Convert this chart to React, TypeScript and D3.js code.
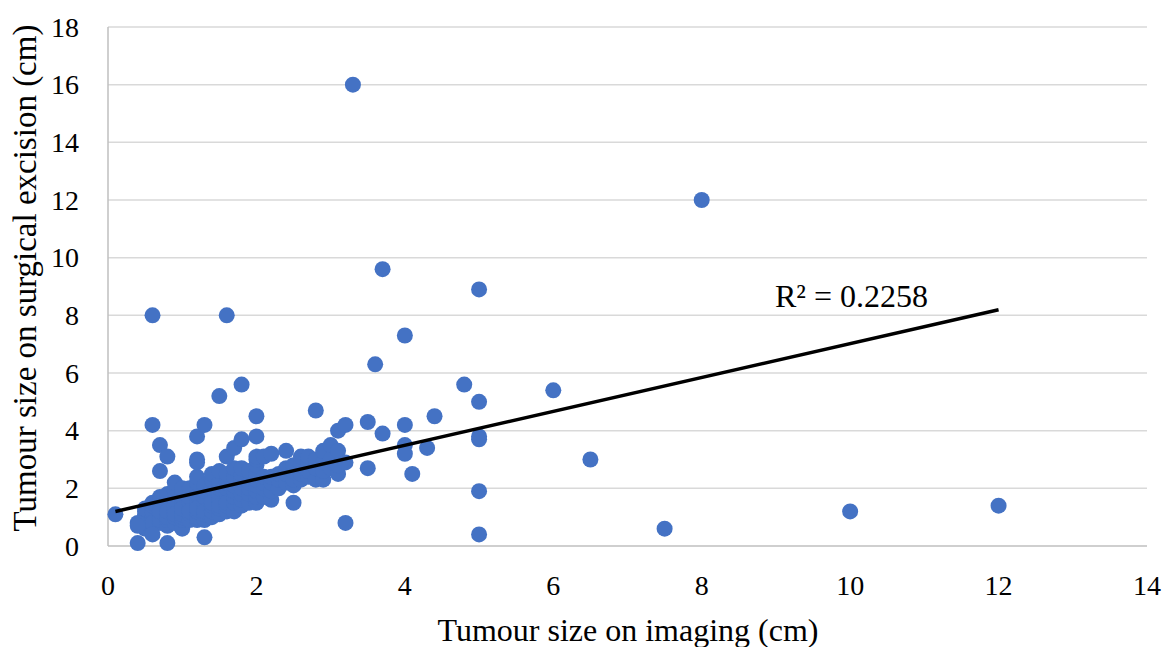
import React from "react";
import * as d3 from "d3";

// Tumour size on imaging (cm) vs surgical excision (cm)
const imagingX: number[] = [
  // dense cluster
  0.5,0.5,0.5,0.5,0.5,0.5,0.5,
  0.6,0.6,0.6,0.6,0.6,0.6,0.6,
  0.7,0.7,0.7,0.7,0.7,0.7,0.7,0.7,
  0.8,0.8,0.8,0.8,0.8,0.8,0.8,0.8,0.8,
  0.9,0.9,0.9,0.9,0.9,0.9,0.9,0.9,
  1.0,1.0,1.0,1.0,1.0,1.0,1.0,1.0,1.0,1.0,1.0,
  1.1,1.1,1.1,1.1,1.1,1.1,1.1,
  1.2,1.2,1.2,1.2,1.2,1.2,1.2,1.2,1.2,1.2,1.2,
  1.3,1.3,1.3,1.3,1.3,1.3,1.3,1.3,
  1.4,1.4,1.4,1.4,1.4,1.4,1.4,1.4,1.4,
  1.5,1.5,1.5,1.5,1.5,1.5,1.5,1.5,1.5,
  1.6,1.6,1.6,1.6,1.6,1.6,1.6,1.6,
  1.7,1.7,1.7,1.7,1.7,1.7,1.7,
  1.8,1.8,1.8,1.8,1.8,1.8,1.8,
  1.9,1.9,1.9,1.9,1.9,
  2.0,2.0,2.0,2.0,2.0,2.0,2.0,2.0,2.0,
  2.1,2.1,2.1,2.1,2.1,
  2.2,2.2,2.2,2.2,2.2,
  2.3,2.3,2.3,
  2.4,2.4,2.4,2.4,
  2.5,2.5,2.5,2.5,
  2.6,2.6,2.6,2.6,
  2.7,2.7,2.7,2.7,
  2.8,2.8,2.8,
  2.9,2.9,2.9,2.9,
  3.0,3.0,3.0,
  3.1,3.1,3.1,3.1,
  3.2,
  // outliers and sparse points
  0.1,0.4,0.4,0.4,0.6,0.6,0.6,0.7,0.7,0.8,0.8,
  1.2,1.2,1.2,1.3,1.3,1.5,1.6,1.6,1.7,1.8,1.8,
  2.0,2.0,2.5,2.8,3.2,3.2,3.3,3.5,3.5,3.6,3.7,3.7,
  4.0,4.0,4.0,4.0,4.1,4.3,4.4,4.8,
  5.0,5.0,5.0,5.0,5.0,5.0,6.0,6.5,7.5,8.0,10.0,12.0,
];

const excisionY: number[] = [
  0.6,0.8,1.0,1.2,0.9,1.1,1.3,
  0.7,0.9,1.0,1.2,1.4,0.8,1.5,
  0.8,1.0,1.1,1.3,1.5,1.7,0.9,1.2,
  0.7,0.9,1.1,1.3,1.5,1.6,1.8,1.0,1.2,
  0.8,1.0,1.2,1.4,1.6,1.9,2.2,1.1,
  0.6,0.9,1.0,1.2,1.4,1.5,1.7,1.9,2.0,1.1,1.3,
  0.9,1.1,1.3,1.5,1.7,2.0,1.2,
  0.9,1.0,1.2,1.4,1.5,1.6,1.8,2.0,2.2,2.4,1.3,
  0.9,1.1,1.3,1.5,1.7,1.9,2.1,1.2,
  1.0,1.2,1.4,1.6,1.8,2.0,2.3,2.5,1.5,
  1.1,1.3,1.5,1.6,1.8,2.0,2.2,2.6,1.4,
  1.2,1.4,1.6,1.8,2.0,2.2,2.5,1.5,
  1.2,1.5,1.7,1.9,2.1,2.4,2.7,
  1.4,1.6,1.8,2.0,2.3,2.5,2.7,
  1.5,1.8,2.0,2.2,2.6,
  1.5,1.7,1.9,2.1,2.3,2.5,2.8,3.0,3.1,
  1.7,2.0,2.2,2.4,3.1,
  1.6,1.9,2.2,2.4,3.2,
  2.0,2.3,2.5,
  2.2,2.5,2.7,3.3,
  2.1,2.3,2.6,2.8,
  2.3,2.5,2.8,3.1,
  2.4,2.6,2.9,3.1,
  2.3,2.7,3.0,
  2.3,2.6,2.9,3.3,
  2.7,3.0,3.5,
  2.5,2.8,3.3,4.0,
  2.9,
  1.1,0.8,0.7,0.1,8.0,4.2,0.4,3.5,2.6,3.1,0.1,
  3.8,3.0,2.9,4.2,0.3,5.2,8.0,3.1,3.4,5.6,3.7,
  4.5,3.8,1.5,4.7,4.2,0.8,16.0,4.3,2.7,6.3,9.6,3.9,
  7.3,4.2,3.5,3.2,2.5,3.4,4.5,5.6,
  8.9,5.0,3.8,3.7,1.9,0.4,5.4,3.0,0.6,12.0,1.2,1.4,
];

const xTicks: number[] = [0, 2, 4, 6, 8, 10, 12, 14];
const yTicks: number[] = [0, 2, 4, 6, 8, 10, 12, 14, 16, 18];

// Linear trendline coefficients as shown on chart
const trendSlope = 0.588;
const trendIntercept = 1.14;
const r2Label = "R² = 0.2258";

const W = 1167;
const H = 647;
const margin = { left: 108, right: 20, top: 27, bottom: 101 };

export default function App() {
  const x = d3.scaleLinear().domain([0, 14]).range([margin.left, W - margin.right]);
  const y = d3.scaleLinear().domain([0, 18]).range([H - margin.bottom, margin.top]);
  const pts = imagingX.map((v, i) => [v, excisionY[i]] as [number, number]);
  const [xmin, xmax] = d3.extent(imagingX) as [number, number];
  const line = d3.line<number>()
    .x((d) => x(d))
    .y((d) => y(trendSlope * d + trendIntercept));
  const font = "'Liberation Serif', 'Times New Roman', serif";

  return (
    <svg width={W} height={H} style={{ position: "absolute", left: 0, top: 0, background: "#fff" }}>
      <rect width={W} height={H} fill="#fff" />
      {yTicks.slice(1).map((t) => (
        <line key={t} x1={x(0)} x2={x(14)} y1={y(t)} y2={y(t)} stroke="#d9d9d9" strokeWidth={1.5} />
      ))}
      <line x1={x(0)} x2={x(14)} y1={y(0)} y2={y(0)} stroke="#bfbfbf" strokeWidth={1.5} />
      <line x1={x(0)} x2={x(0)} y1={y(0)} y2={y(18)} stroke="#bfbfbf" strokeWidth={1.5} />
      {yTicks.map((t) => (
        <text key={t} x={x(0) - 29} y={y(t)} dy="0.35em" textAnchor="end" fontFamily={font} fontSize={28} fill="#000">
          {t}
        </text>
      ))}
      {xTicks.map((t) => (
        <text key={t} x={x(t)} y={y(0) + 39} dy="0.35em" textAnchor="middle" fontFamily={font} fontSize={28} fill="#000">
          {t}
        </text>
      ))}
      {pts.map((p, i) => (
        <circle key={i} cx={x(p[0])} cy={y(p[1])} r={8} fill="#4472c4" />
      ))}
      <path d={line([xmin, xmax]) || ""} stroke="#000" strokeWidth={3.5} fill="none" />
      <text x={775} y={307} fontFamily={font} fontSize={32} fill="#000">{r2Label}</text>
      <text x={628} y={641} textAnchor="middle" fontFamily={font} fontSize={32} fill="#000">
        Tumour size on imaging (cm)
      </text>
      <text transform={`translate(36, 278) rotate(-90)`} textAnchor="middle" fontFamily={font} fontSize={33} fill="#000">
        Tumour size on surgical excision (cm)
      </text>
    </svg>
  );
}
